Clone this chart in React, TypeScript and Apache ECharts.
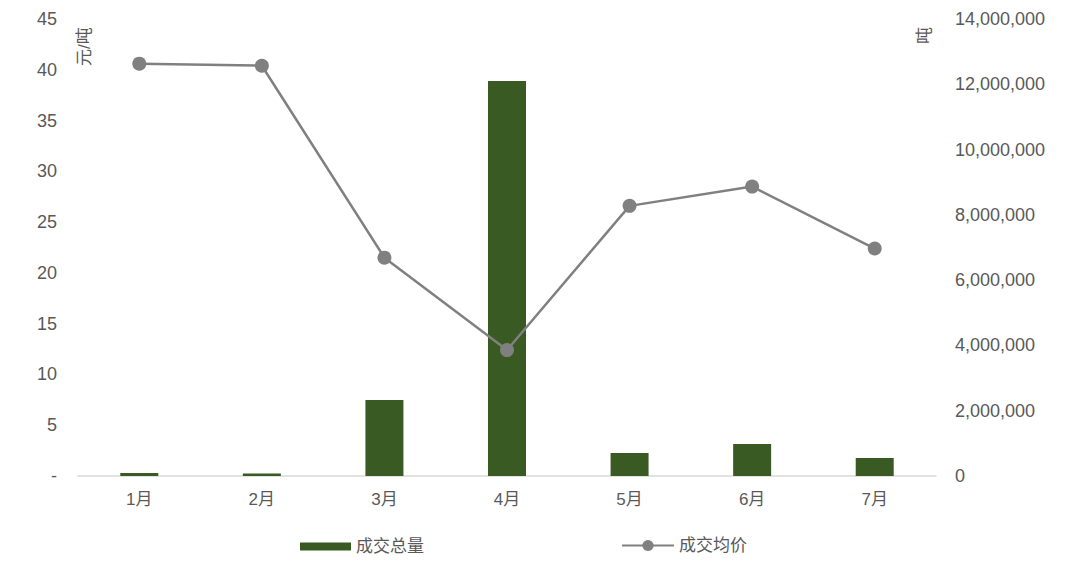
import React, { useEffect, useRef } from "react";
import * as echarts from "echarts";

const months = ["1月", "2月", "3月", "4月", "5月", "6月", "7月"];
const volume = [90000, 80000, 2330000, 12100000, 705000, 980000, 550000];
const avgPrice = [40.6, 40.4, 21.5, 12.4, 26.6, 28.5, 22.4];

const leftTicks = { min: 0, max: 45, interval: 5 };
const rightTicks = { min: 0, max: 14000000, interval: 2000000 };

const BAR_COLOR = "#3a5a24";
const LINE_COLOR = "#808080";
const TEXT_COLOR = "#595959";
const FONT = "Liberation Sans, Noto Sans CJK SC, sans-serif";

export default function App() {
  const ref = useRef<HTMLDivElement>(null);

  useEffect(() => {
    if (!ref.current) return;
    const chart = echarts.init(ref.current, undefined, { renderer: "svg" });
    chart.setOption({
      animation: false,
      textStyle: { fontFamily: FONT },
      grid: { left: 78, right: 135, top: 19, bottom: 90, containLabel: false },
      legend: [
        {
          data: [{ name: "成交总量", icon: "rect" }],
          left: 300,
          top: 538,
          padding: 0,
          itemWidth: 51,
          itemHeight: 8,
          itemGap: 6,
          textStyle: { color: TEXT_COLOR, fontSize: 17, fontFamily: FONT },
        },
        {
          data: ["成交均价"],
          left: 621,
          top: 537,
          padding: 0,
          itemWidth: 52,
          itemHeight: 14,
          textStyle: { color: TEXT_COLOR, fontSize: 17, fontFamily: FONT },
        },
      ],
      xAxis: {
        type: "category",
        data: months,
        axisLine: { lineStyle: { color: "#d9d9d9", width: 1.5 } },
        axisTick: { show: false },
        axisLabel: { color: TEXT_COLOR, fontSize: 17, margin: 15 },
      },
      yAxis: [
        {
          type: "value",
          ...leftTicks,
          splitLine: { show: false },
          axisLine: { show: false },
          axisTick: { show: false },
          axisLabel: {
            color: TEXT_COLOR,
            fontSize: 18,
            margin: 21,
            formatter: (v: number) => (v === 0 ? "-" : String(v)),
          },
        },
        {
          type: "value",
          ...rightTicks,
          splitLine: { show: false },
          axisLine: { show: false },
          axisTick: { show: false },
          axisLabel: {
            color: TEXT_COLOR,
            fontSize: 18,
            margin: 19,
            formatter: (v: number) => v.toLocaleString("en-US"),
          },
        },
      ],
      graphic: [
        {
          type: "text",
          x: 76,
          y: 66,
          rotation: Math.PI / 2,
          style: { text: "元/吨", fill: TEXT_COLOR, fontSize: 17, fontFamily: FONT },
        },
        {
          type: "text",
          x: 916,
          y: 44,
          rotation: Math.PI / 2,
          style: { text: "吨", fill: TEXT_COLOR, fontSize: 17, fontFamily: FONT },
        },
      ],
      series: [
        {
          name: "成交总量",
          type: "bar",
          yAxisIndex: 1,
          data: volume,
          barWidth: 38,
          itemStyle: { color: BAR_COLOR },
        },
        {
          name: "成交均价",
          type: "line",
          yAxisIndex: 0,
          data: avgPrice,
          symbol: "circle",
          symbolSize: 14,
          lineStyle: { color: LINE_COLOR, width: 2.5 },
          itemStyle: { color: LINE_COLOR },
        },
      ],
    });
    return () => chart.dispose();
  }, []);

  return <div ref={ref} style={{ width: 1071, height: 566, margin: -8 }} />;
}
